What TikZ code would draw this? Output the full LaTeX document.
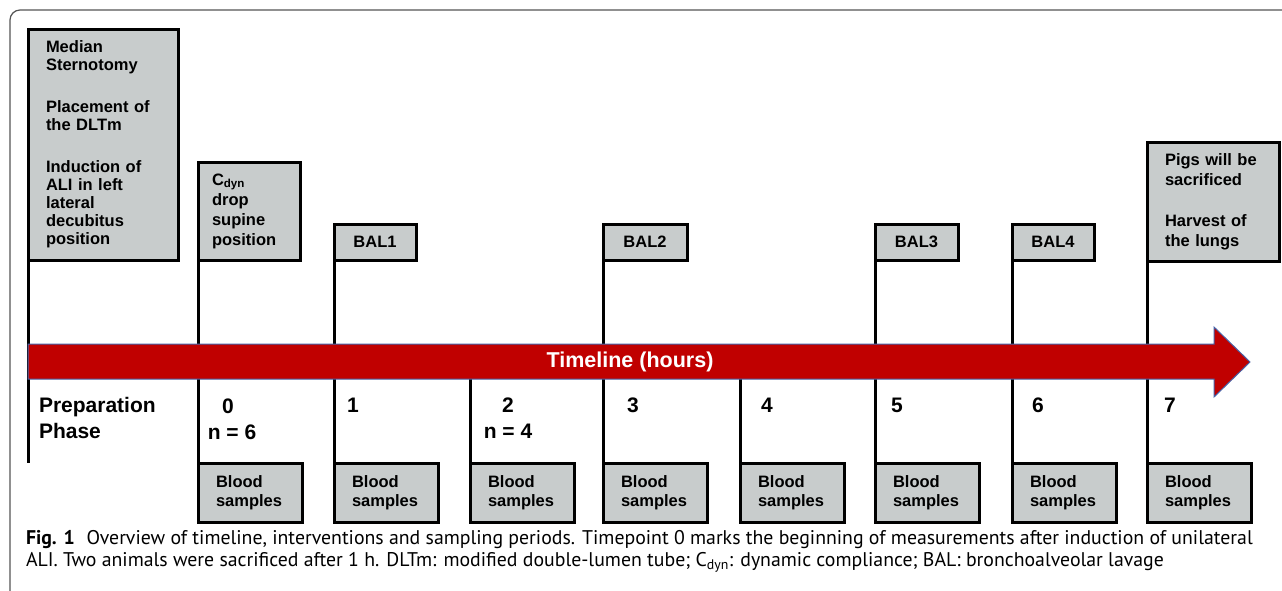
\documentclass[tikz,border=0pt]{standalone}
\usepackage{fontspec}
\setmainfont{Liberation Sans}
\newfontfamily\capfont{PT Sans}
\definecolor{boxgray}{RGB}{200,204,204}
\definecolor{tlred}{RGB}{192,0,0}
\definecolor{tlblue}{RGB}{70,100,170}
\definecolor{framegray}{RGB}{85,85,85}
\begin{document}
\begin{tikzpicture}[x=1pt,y=-1pt,
  every node/.style={inner sep=0pt, outer sep=0pt},
  box/.style={draw=black, line width=3pt, fill=boxgray, anchor=north west,
    font=\bfseries\fontsize{16.5}{19}\selectfont},
  textbox/.style={box, align=left, inner xsep=#1},
  balbox/.style={box, align=center, minimum height=36pt},
  bloodbox/.style={box, align=left, inner xsep=18pt, text width=68pt, minimum height=59pt},
  stem/.style={line width=3pt, black},
  num/.style={font=\bfseries\fontsize{21}{26}\selectfont},
  captext/.style={anchor=west, font=\capfont\fontsize{19.8}{20}\selectfont}
]
\useasboundingbox (0,0) rectangle (1282,590);
% frame
\draw[framegray, line width=1.2pt, rounded corners=10pt] (1290,10) -- (10,10) -- (10,598);

% top boxes
\node[textbox=18pt, text width=114pt, minimum height=231pt, font=\bfseries\fontsize{16.5}{18}\selectfont] (prep) at (28,29)
  {Median\\Sternotomy\\[24pt]Placement of\\the DLTm\\[24pt]Induction of\\ALI in left\\lateral\\decubitus\\position};
\node[textbox=14pt, text width=74pt, minimum height=98pt, font=\bfseries\fontsize{16.5}{20}\selectfont] (cdyn) at (198,162)
  {C\textsubscript{dyn}\\drop\\supine\\position};
\node[balbox, minimum width=82pt] (bal1) at (334,224) {BAL1};
\node[balbox, minimum width=84pt] (bal2) at (603,224) {BAL2};
\node[balbox, minimum width=83pt] (bal3) at (875,224) {BAL3};
\node[balbox, minimum width=82pt] (bal4) at (1012,224) {BAL4};
\node[textbox=18pt, text width=96pt, minimum height=119pt, font=\bfseries\fontsize{16.5}{20}\selectfont] (pigs) at (1147,142)
  {Pigs will be\\sacrificed\\[21pt]Harvest of\\the lungs};

% blood sample boxes
\foreach \x/\n in {198/0,334/1,470/2,603/3,740/4,875/5,1012/6,1147/7}{
  \node[bloodbox] (blood\n) at (\x,463) {Blood\\samples};
}

% free ends
\coordinate (prepend) at (28,463);
\coordinate (t2) at (470,370);
\coordinate (t4) at (740,370);

% stems
\draw[stem] (prep.south west) -- (prepend);
\draw[stem] (cdyn.south west) -- (blood0.north west);
\draw[stem] (bal1.south west) -- (blood1.north west);
\draw[stem] (t2) -- (blood2.north west);
\draw[stem] (bal2.south west) -- (blood3.north west);
\draw[stem] (t4) -- (blood4.north west);
\draw[stem] (bal3.south west) -- (blood5.north west);
\draw[stem] (bal4.south west) -- (blood6.north west);
\draw[stem] (pigs.south west) -- (blood7.north west);

% timeline arrow
\draw[fill=tlred, draw=tlblue, line width=1pt]
  (28,344) -- (1214,344) -- (1214,327) -- (1250,362) -- (1214,397) -- (1214,379) -- (28,379) -- cycle;
\node[font=\bfseries\fontsize{21.5}{22}\selectfont, text=white] (tl) at (630,362) {Timeline (hours)};

% labels under timeline
\node[num, anchor=west, align=left] (phase) at (39,418) {Preparation\\Phase};
\node[num] (h0) at (228,406) {0};
\node[num] (n6) at (232,432) {n = 6};
\node[num] (h1) at (353,405) {1};
\node[num] (h2) at (508,405) {2};
\node[num] (n4) at (508,431) {n = 4};
\node[num] (h3) at (633,405) {3};
\node[num] (h4) at (767,405) {4};
\node[num] (h5) at (897,405) {5};
\node[num] (h6) at (1038,405) {6};
\node[num] (h7) at (1170,405) {7};

% caption
\node[captext] (cap1) at (26,540) {\textbf{Fig. 1}\hspace{0.6em}Overview of timeline, interventions and sampling periods. Timepoint 0 marks the beginning of measurements after induction of unilateral};
\node[captext] (cap2) at (26,562) {ALI. Two animals were sacrificed after 1 h. DLTm: modified double-lumen tube; C\textsubscript{dyn}: dynamic compliance; BAL: bronchoalveolar lavage};
\end{tikzpicture}
\end{document}
